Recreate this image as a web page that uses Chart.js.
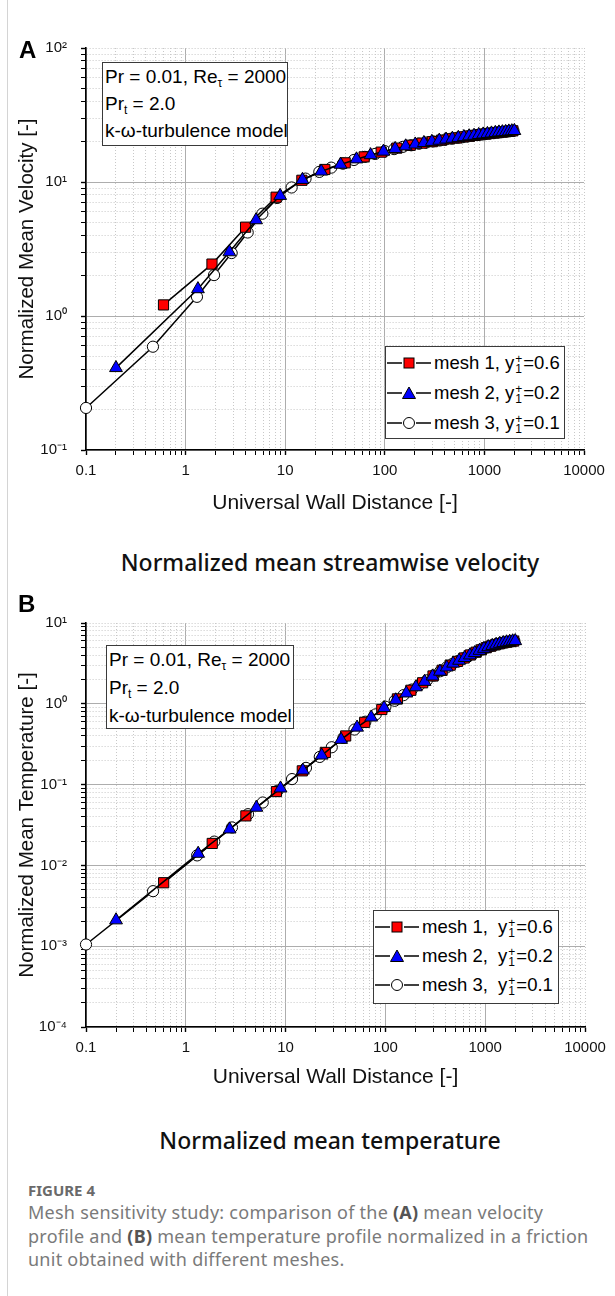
<!DOCTYPE html>
<html lang="en">
<head>
<meta charset="utf-8">
<title>Figure 4 – mesh sensitivity study</title>
<script src="https://cdn.jsdelivr.net/npm/chart.js@4.4.1/dist/chart.umd.min.js"></script>
<style>
  html, body { margin: 0; padding: 0; background: #fff; }
  body { width: 615px; height: 1296px; position: relative; overflow: hidden;
         font-family: 'Liberation Sans', Arial, sans-serif; color: #000; }
  .frame { position: absolute; left: 7px; top: 0; bottom: 0; border-left: 1px solid #d4d4d4; }
  .panel { position: absolute; left: 0; width: 615px; height: 520px; }
  .tag { position: absolute; font: bold 24px/24px 'Liberation Sans', Arial, sans-serif; }
  .info, .legend { position: absolute; background: #fff; border: 1px solid #3a3a3a;
                   box-sizing: border-box; white-space: nowrap; }
  .info { padding: 0 0 0 2px; font-size: 19px; }
  .info sub { font-size: 12px; vertical-align: -4px; line-height: 0; }
  .legend { font-size: 18.5px; }
  .legend .row { display: flex; align-items: center; }
  .legend svg { flex: none; margin-right: 2px; }
  .yp { display: inline-block; vertical-align: -4px; font-size: 12px; line-height: 10px; margin: 0 1px; }
  .yp span { display: block; }
  .heading { position: absolute; left: 40px; width: 580px; text-align: center;
             font: 500 23px/30px 'Noto Sans', 'Open Sans', sans-serif; color: #111; }
  .figno { position: absolute; left: 28px; top: 1180px; font: bold 15px/20px 'Noto Sans', sans-serif; color: #6a6a6a; }
  .caption { position: absolute; left: 28px; top: 1201px; width: 585px; white-space: nowrap; letter-spacing: 0.25px;
             font: 18px/23.5px 'Noto Sans', sans-serif; color: #7a7a7a; }
  .caption b { color: #555; }
</style>
</head>
<body>
<div class="frame"></div>

<!-- panel A -->
<div class="panel" style="top:0"><canvas id="chartA" width="615" height="520"></canvas></div>
<div class="tag" style="left:19px; top:38px">A</div>
<div class="info" style="left:102px; top:62px; width:186px; height:84px; line-height:27px">
  Pr = 0.01, Re<sub>τ</sub> = 2000<br>Pr<sub>t</sub> = 2.0<br>k-ω-turbulence model
</div>
<div class="legend" id="legendA" style="left:385px; top:346px; width:180px; height:93px; padding-top:1px"></div>

<div class="heading" style="top:547px">Normalized mean streamwise velocity</div>

<!-- panel B -->
<div class="panel" style="top:575px"><canvas id="chartB" width="615" height="520"></canvas></div>
<div class="tag" style="left:18px; top:592px">B</div>
<div class="info" style="left:106px; top:645px; width:188px; height:84px; line-height:28px">
  Pr = 0.01, Re<sub>τ</sub> = 2000<br>Pr<sub>t</sub> = 2.0<br>k-ω-turbulence model
</div>
<div class="legend" id="legendB" style="left:373px; top:910px; width:186px; height:94px; padding-top:1px"></div>

<div class="heading" style="top:1125px">Normalized mean temperature</div>

<div class="figno">FIGURE 4</div>
<div class="caption">
  Mesh sensitivity study: comparison of the <b>(A)</b> mean velocity<br>
  profile and <b>(B)</b> mean temperature profile normalized in a friction<br>
  unit obtained with different meshes.
</div>

<script>
// ── Dados ─────────────────────────────────────────────────────────────────────
// y+ de cada malha (mesmos nós nos dois painéis)
const mesh1Y = [0.6, 1.84, 4.0, 8.1, 14.7, 25, 40, 62, 92, 132,
                180, 236, 300, 370, 446, 528, 616, 710, 810, 915,
                1025, 1140, 1260, 1385, 1515, 1650, 1790, 1930];
const mesh2Y = [0.2, 1.33, 2.75, 5.1, 8.9, 14.9, 23, 36, 52, 72,
                97, 127, 162, 202, 247, 297, 352, 412, 477, 547,
                622, 702, 787, 877, 972, 1072, 1177, 1287, 1400, 1515,
                1635, 1760, 1885, 2000];
const mesh3Y = [0.1, 0.47, 1.3, 1.93, 2.9, 4.2, 5.9, 8.3, 11.6, 16,
                22, 29, 38, 49, 63, 80, 100, 124, 152, 184,
                220, 260, 305, 355, 410, 470, 535, 605, 680, 760,
                845, 935, 1030, 1130, 1235, 1345, 1460, 1580, 1705, 1835,
                1960];

// (A) velocidade média normalizada u+
const mesh1U = [1.21, 2.44, 4.6, 7.7, 10.3, 12.4, 13.9, 15.4, 16.7, 17.9,
                18.8, 19.5, 20.0, 20.5, 21.0, 21.3, 21.7, 22.0, 22.3, 22.6,
                22.8, 23.0, 23.2, 23.4, 23.6, 23.8, 23.9, 24.1];
const mesh2U = [0.41, 1.59, 3.0, 5.2, 7.9, 10.4, 12.0, 13.5, 14.8, 15.9,
                16.9, 17.7, 18.5, 19.1, 19.6, 20.0, 20.4, 20.8, 21.1, 21.4,
                21.7, 22.0, 22.2, 22.5, 22.7, 22.9, 23.1, 23.3, 23.5, 23.6,
                23.7, 23.9, 24.0, 24.1];
const mesh3U = [0.206, 0.59, 1.39, 2.02, 2.95, 4.2, 5.8, 7.6, 9.1, 10.6,
                11.9, 12.8, 13.7, 14.6, 15.4, 16.2, 17.0, 17.6, 18.3, 18.8,
                19.3, 19.7, 20.1, 20.4, 20.8, 21.1, 21.4, 21.6, 21.9, 22.1,
                22.4, 22.6, 22.8, 23.0, 23.2, 23.4, 23.5, 23.7, 23.8, 24.0,
                24.1];

// (B) temperatura média normalizada T+
const mesh1T = [0.0061, 0.0187, 0.041, 0.082, 0.148, 0.25, 0.40, 0.59, 0.85, 1.15,
                1.47, 1.82, 2.21, 2.60, 3.01, 3.35, 3.69, 4.02, 4.35, 4.66,
                4.95, 5.17, 5.36, 5.53, 5.68, 5.80, 5.90, 5.98];
const mesh2T = [0.0021, 0.0140, 0.028, 0.052, 0.090, 0.150, 0.23, 0.36, 0.51, 0.68,
                0.89, 1.11, 1.35, 1.61, 1.88, 2.19, 2.51, 2.83, 3.16, 3.43,
                3.71, 3.99, 4.27, 4.55, 4.82, 5.05, 5.23, 5.40, 5.55, 5.68,
                5.79, 5.88, 5.96, 6.0];
const mesh3T = [0.00105, 0.0048, 0.0133, 0.0197, 0.0295, 0.043, 0.060, 0.084, 0.117, 0.161,
                0.22, 0.29, 0.38, 0.48, 0.60, 0.74, 0.92, 1.09, 1.28, 1.50,
                1.72, 1.95, 2.24, 2.53, 2.82, 3.12, 3.38, 3.65, 3.92, 4.19,
                4.46, 4.72, 4.96, 5.15, 5.32, 5.48, 5.62, 5.74, 5.84, 5.93,
                5.99];

// rótulos dos eixos (uma entrada por década)
const xTickLabels  = ['0.1', '1', '10', '100', '1000', '10000'];
const yTickLabelsA = ['10⁻¹', '10⁰', '10¹', '10²'];
const yTickLabelsB = ['10⁻⁴', '10⁻³', '10⁻²', '10⁻¹', '10⁰', '10¹'];
const meshLabelsA  = ['mesh 1, ', 'mesh 2, ', 'mesh 3, '];
const meshLabelsB  = ['mesh 1,\u00a0 ', 'mesh 2,\u00a0 ', 'mesh 3,\u00a0 '];
const meshYplus    = ['0.6', '0.2', '0.1'];

const FONT       = "'Liberation Sans', Arial, sans-serif";
const INK        = '#111';
const GRID_MAJOR = '#adadad';
const GRID_MINOR = '#c8c8c8';

const STYLES = [
  { shape: 'rect',     r: 7.2, fill: '#ff0000', order: 1 },
  { shape: 'triangle', r: 7.4, fill: '#0000ff', order: 0 },
  { shape: 'circle',   r: 5.6, fill: '#ffffff', order: 2 },
];

// ── Ticks de década + intermediários (2..9) ───────────────────────────────────
function logTicks(minExp, maxExp) {
  const ticks = [];
  for (let e = minExp; e <= maxExp; e++) {
    for (let m = 1; m <= 9; m++) {
      if (e === maxExp && m > 1) break;
      ticks.push({ value: +(m * Math.pow(10, e)).toPrecision(3), major: m === 1, edge: e === maxExp });
    }
  }
  return ticks;
}

const isMajor = c => c.tick && c.tick.major && !c.tick.edge;

function logAxis({ min, max, labels, title, horizontal, fitSize, titlePad, titleSize }) {
  const minExp = Math.round(Math.log10(min));
  const maxExp = Math.round(Math.log10(max));
  return {
    type: 'logarithmic',
    min, max,
    afterBuildTicks: s => { s.ticks = logTicks(minExp, maxExp); },
    afterFit: s => { if (horizontal) s.height = fitSize; else s.width = fitSize; },
    ticks: {
      autoSkip: false,
      maxRotation: 0,
      color: INK,
      padding: horizontal ? 7 : 14,
      font: { family: FONT, size: 15 },
      callback: (v, i, ticks) => ticks[i].major ? labels[Math.round(Math.log10(v)) - minExp] : '',
    },
    grid: {
      color: c => isMajor(c) ? GRID_MAJOR : GRID_MINOR,
      lineWidth: 1,
      tickLength: 5,
      tickColor: '#000',
      tickWidth: c => c.tick && c.tick.major ? 1.4 : 1,
    },
    border: {
      color: '#000',
      width: 1.6,
      dash: c => (c.tick && !isMajor(c)) ? [1, 2] : [],
    },
    title: {
      display: true, text: title, color: INK,
      font: { family: FONT, size: titleSize },
      padding: titlePad,
    },
  };
}

function meshDataset(label, xs, ys, st) {
  return {
    label,
    data: xs.map((x, i) => ({ x, y: ys[i] })),
    borderColor: '#000',
    borderWidth: 1.5,
    tension: 0,
    fill: false,
    clip: false,
    pointStyle: st.shape,
    pointRadius: st.r,
    pointBackgroundColor: st.fill,
    pointBorderColor: '#000',
    pointBorderWidth: 1,
    order: st.order,
  };
}

function buildPanel(canvasId, { ys, yMin, yMax, yLabels, yTitle, xFit, xTitlePad, padRight }) {
  const ctx = document.getElementById(canvasId);
  const xs = [mesh1Y, mesh2Y, mesh3Y];
  return new Chart(ctx, {
    type: 'line',
    data: {
      datasets: ys.map((y, i) => meshDataset(meshLabelsA[i], xs[i], y, STYLES[i])),
    },
    options: {
      responsive: false,
      animation: false,
      layout: { padding: { top: 48, right: padRight, left: 0, bottom: 0 } },
      plugins: { legend: { display: false }, tooltip: { enabled: false } },
      scales: {
        x: logAxis({ min: 0.1, max: 10000, labels: xTickLabels, title: 'Universal Wall Distance [-]',
                     horizontal: true, fitSize: xFit, titleSize: 21, titlePad: { top: 0, bottom: xTitlePad } }),
        y: logAxis({ min: yMin, max: yMax, labels: yLabels, title: yTitle,
                     horizontal: false, fitSize: 86, titleSize: 20.5, titlePad: { top: 15, bottom: 0 } }),
      },
    },
  });
}

// ── Legenda HTML (caixa dentro da área do gráfico) ────────────────────────────
function markerSvg(st) {
  let m;
  if (st.shape === 'rect') m = '<rect x="18" y="2" width="10" height="10" fill="#f00" stroke="#000"/>';
  else if (st.shape === 'triangle') m = '<polygon points="23,1 29.5,12.5 16.5,12.5" fill="#00f" stroke="#000"/>';
  else m = '<circle cx="23" cy="7" r="5.5" fill="#fff" stroke="#000"/>';
  return '<svg width="46" height="14"><line x1="1" y1="7" x2="16" y2="7" stroke="#000" stroke-width="1.5"/>'
       + '<line x1="30" y1="7" x2="45" y2="7" stroke="#000" stroke-width="1.5"/>' + m + '</svg>';
}

function buildLegend(id, labels, rowH) {
  const el = document.getElementById(id);
  el.innerHTML = labels.map((lab, i) =>
    `<div class="row" style="height:${rowH}px">${markerSvg(STYLES[i])}<span>${lab}y<span class="yp"><span>+</span><span>1</span></span>=${meshYplus[i]}</span></div>`
  ).join('');
}

buildPanel('chartA', {
  ys: [mesh1U, mesh2U, mesh3U], yMin: 0.1, yMax: 100, yLabels: yTickLabelsA,
  yTitle: 'Normalized Mean Velocity [-]', xFit: 70, xTitlePad: 4, padRight: 31,
});
buildPanel('chartB', {
  ys: [mesh1T, mesh2T, mesh3T], yMin: 0.0001, yMax: 10, yLabels: yTickLabelsB,
  yTitle: 'Normalized Mean Temperature [-]', xFit: 68, xTitlePad: 5, padRight: 30,
});
buildLegend('legendA', meshLabelsA, 30);
buildLegend('legendB', meshLabelsB, 29);
</script>
</body>
</html>
